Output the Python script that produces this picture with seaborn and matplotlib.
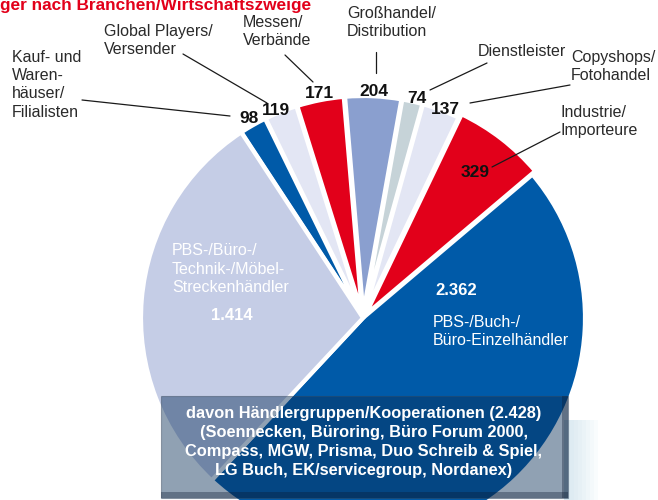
import matplotlib
matplotlib.use("Agg")
import numpy as np
import seaborn as sns
import matplotlib.pyplot as plt
from matplotlib.patches import Rectangle
from matplotlib.lines import Line2D

# slices, counter-clockwise starting at the big blue one
categories = [
    "PBS-/Buch-/\nBüro-Einzelhändler",
    "Industrie/\nImporteure",
    "Copyshops/\nFotohandel",
    "Dienstleister",
    "Großhandel/\nDistribution",
    "Messen/\nVerbände",
    "Global Players/\nVersender",
    "Kauf- und\nWaren-\nhäuser/\nFilialisten",
    "PBS-/Büro-/\nTechnik-/Möbel-\nStreckenhändler",
]
values = [2362, 329, 137, 74, 204, 171, 119, 98, 1414]
value_labels = ["2.362", "329", "137", "74", "204", "171", "119", "98", "1.414"]
colors = ["#005aa8", "#e2001a", "#e3e6f4", "#c6d3d8", "#8a9fcf",
          "#e2001a", "#e3e6f4", "#005aa8", "#c5cde6"]

title = "ger nach Branchen/Wirtschaftszweige"
box_text = ("davon Händlergruppen/Kooperationen (2.428)\n"
            "(Soennecken, Büroring, Büro Forum 2000,\n"
            "Compass, MGW, Prisma, Duo Schreib & Spiel,\n"
            "LG Buch, EK/servicegroup, Nordanex)")

sns.set_theme(style="white")
plt.rcParams["font.family"] = ["Liberation Sans", "DejaVu Sans"]

W, H = 658, 500
CX, CY, S = 363, 318, 222   # pie centre and radius in pixels


def fx(x):
    return x / W


def fy(y):
    return 1 - y / H


fig = plt.figure(figsize=(W / 100, H / 100), dpi=100)
ax = fig.add_axes([0, 0, 1, 1])

explode = [0.0, 0.02, 0.025, 0.025, 0.025, 0.025, 0.025, 0.025, 0.0]
wedges, _ = ax.pie(values, colors=colors, startangle=227, counterclock=True,
                   explode=explode, radius=1,
                   wedgeprops=dict(edgecolor="white", linewidth=3))
# the small slices are drawn a little shorter than the two big ones
for w in wedges[2:8]:
    w.set_radius(0.975)
ax.set_xlim(-CX / S, (W - CX) / S)
ax.set_ylim((CY - H) / S, CY / S)
ax.set_aspect("auto")
ax.axis("off")

# values next to the small slices (radius, angle shift)
val_pos = {1: (0.81, 0), 2: (0.985, -1), 3: (0.995, -1), 4: (0.995, 0),
           5: (1.005, 0), 6: (0.99, 1), 7: (1.01, 0)}
for i, (r, da) in val_pos.items():
    w = wedges[i]
    a = np.deg2rad((w.theta1 + w.theta2) / 2 + da)
    ax.text(w.center[0] + r * np.cos(a), w.center[1] + r * np.sin(a),
            value_labels[i], ha="center", va="center",
            fontsize=12.5, fontweight="bold", color="#111111")

# category labels with leader lines (pixel positions)
lab_col = "#2a2a2a"
labels = {
    7: (12, 50, [(82, 100), (230, 116)]),
    6: (104, 24, [(183, 54), (267, 103)]),
    5: (243, 15, [(285, 55), (313, 82)]),
    4: (347, 6, [(376, 52), (376, 73)]),
    3: (478, 44, [(487, 63), (430, 90)]),
    2: (571, 50, [(570, 85), (470, 103)]),
    1: (561, 105, [(560, 132), (492, 167)]),
}
for i, (x, y, line) in labels.items():
    fig.text(fx(x), fy(y), categories[i], ha="left", va="top",
             fontsize=11.5, color=lab_col, linespacing=1.27)
    (x0, y0), (x1, y1) = line
    fig.add_artist(Line2D([fx(x0), fx(x1)], [fy(y0), fy(y1)],
                          color="#1a1a1a", lw=0.9, transform=fig.transFigure))

# texts inside the big slices
fig.text(fx(435), fy(283), value_labels[0], ha="left", va="top",
         fontsize=12, fontweight="bold", color="white")
fig.text(fx(433), fy(315), categories[0], ha="left", va="top",
         fontsize=11.5, color="white", linespacing=1.25)
fig.text(fx(172), fy(243), categories[8], ha="left", va="top",
         fontsize=11.5, color="white", linespacing=1.3)
fig.text(fx(232), fy(308), value_labels[8], ha="center", va="top",
         fontsize=12, fontweight="bold", color="white")

# title, cut at the top edge like the original
fig.text(fx(0), fy(10), title, ha="left", va="baseline",
         fontsize=12.4, fontweight="bold", color="#e2001a")

# shaded box at the bottom
bx0, by0, bx1, by1 = 161, 396, 568, 498
for k in range(8):
    fig.add_artist(Rectangle((fx(bx1 - 4), fy(by1 + 8)), (6 + k * 4) / W,
                             (by1 - 420 + 8) / H, transform=fig.transFigure,
                             facecolor="#a8cde2", edgecolor="none", alpha=0.06))
fig.add_artist(Rectangle((fx(bx0), fy(by1)), (bx1 - bx0) / W, (by1 - by0) / H,
                         transform=fig.transFigure, facecolor="#0a2f58",
                         edgecolor="#33455a", lw=0.8, alpha=0.45))
fig.add_artist(Rectangle((fx(bx1 - 6), fy(by1)), 6 / W, (by1 - by0) / H,
                         transform=fig.transFigure, facecolor="#0a1a30",
                         edgecolor="none", alpha=0.35))
fig.add_artist(Rectangle((fx(bx0), fy(by1)), (bx1 - bx0) / W, 6 / H,
                         transform=fig.transFigure, facecolor="#0a1a30",
                         edgecolor="none", alpha=0.35))
fig.text(fx(364), fy(406), box_text, ha="center", va="top",
         fontsize=11.8, fontweight="bold", color="white", linespacing=1.32)

fig.savefig("out.png", dpi=100)
